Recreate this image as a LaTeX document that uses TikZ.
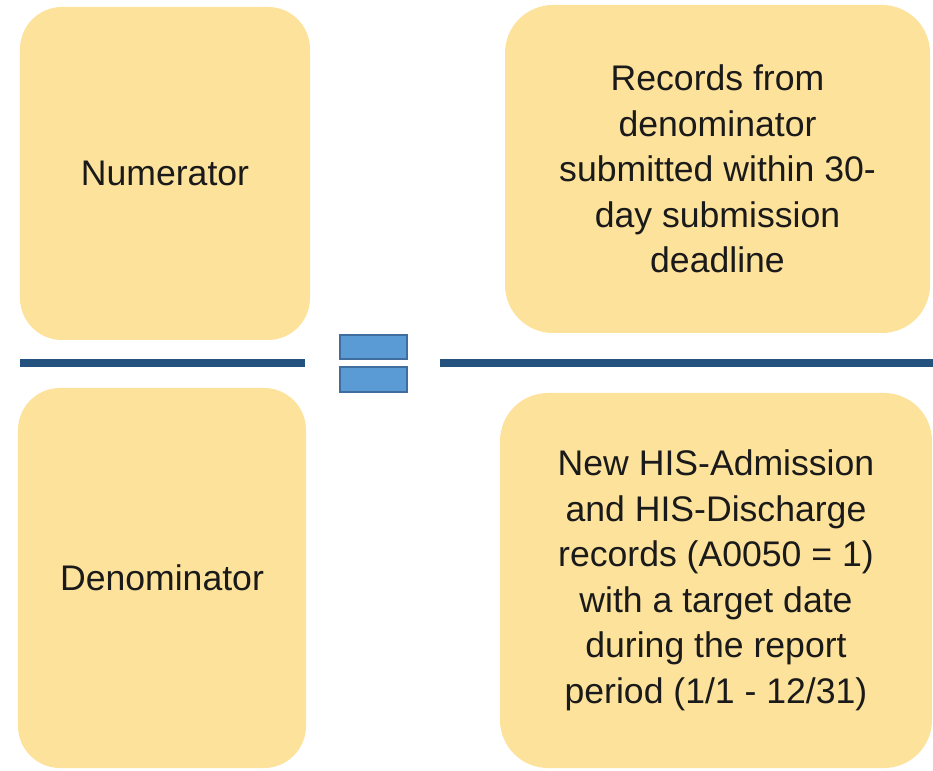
\documentclass[tikz,border=0pt]{standalone}
\usepackage{fontspec}
\setmainfont{Liberation Sans}
\usetikzlibrary{positioning}
\definecolor{Ink}{HTML}{1A1A1A}
\definecolor{TermFill}{HTML}{FDE29B}
\definecolor{BarBlue}{HTML}{24527F}
\definecolor{EqFill}{HTML}{5B9BD5}
\definecolor{EqEdge}{HTML}{3F6E9E}
\tikzset{
  term panel/.style={fill=TermFill, rounded corners=42bp, inner sep=0pt, align=center, text=Ink,
    font=\fontsize{35.6bp}{45.5bp}\selectfont},
  fraction bar/.style={draw=BarBlue, line width=8bp},
  equal bar/.style={draw=EqEdge, fill=EqFill, line width=1.2bp, minimum width=67bp, inner sep=0pt},
}

\begin{document}
\begin{tikzpicture}[x=1bp, y=1bp]
  \useasboundingbox (0,0) rectangle (933,771);

  % Left-hand side of the ratio.
  \node[term panel, minimum width=290bp, minimum height=333bp] (num) at (165,597.5) {Numerator};
  \node[term panel, minimum width=288bp, minimum height=380bp] (den) at (162,193) {Denominator};

  % Right-hand side of the ratio.
  \node[term panel, minimum width=425bp, minimum height=328bp, rounded corners=48bp] (rec) at (717.5,602)
    {Records from\\denominator\\submitted within 30-\\day submission\\deadline};
  \node[term panel, minimum width=432bp, minimum height=375bp, rounded corners=48bp] (newrec) at (716,190.5)
    {New HIS-Admission\\and HIS-Discharge\\records (A0050 = 1)\\with a target date\\during the report\\period (1/1 - 12/31)};

  % Equals sign between the two fractions.
  \node[equal bar, minimum height=24bp] (eqtop) at (373.5,424) {};
  \node[equal bar, minimum height=25bp] (eqbot) at (373.5,391.5) {};

  % Fraction bars.
  \coordinate (lbarw) at (20,408);
  \coordinate (lbare) at (305,408);
  \coordinate (rbarw) at (440,408);
  \coordinate (rbare) at (933,408);
  \draw[fraction bar] (lbarw) -- (lbare);
  \draw[fraction bar] (rbarw) -- (rbare);
\end{tikzpicture}
\end{document}
